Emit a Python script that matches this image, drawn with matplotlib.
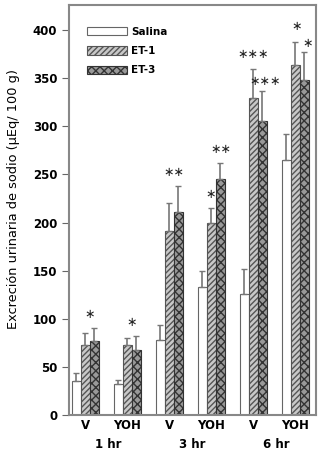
import numpy as np
import matplotlib.pyplot as plt
from matplotlib.patches import Patch

# data
groups = ["V", "YOH", "V", "YOH", "V", "YOH"]
times = ["1 hr", "3 hr", "6 hr"]
series = ["Salina", "ET-1", "ET-3"]
salina = [35, 32, 78, 133, 126, 265]
salina_err = [9, 4, 15, 17, 26, 27]
et1 = [73, 73, 191, 200, 329, 364]
et1_err = [12, 7, 29, 15, 31, 24]
et3 = [77, 68, 211, 245, 305, 348]
et3_err = [13, 14, 27, 17, 32, 29]
# significance marks: (group, offset in bar widths, value, text)
stars = [(0, 0.5, 104, "∗"), (1, 0.5, 96, "∗"), (2, 0.5, 252, "∗∗"),
         (3, -0.1, 229, "∗"), (3, 1.0, 276, "∗∗"), (4, 0.0, 375, "∗∗∗"),
         (4, 1.3, 346, "∗∗∗"), (5, 0.15, 404, "∗"), (5, 1.3, 386, "∗")]

plt.rcParams['font.family'] = ['DejaVu Sans']
fig = plt.figure(figsize=(3.25, 4.51), dpi=100)
ax = fig.add_axes([69 / 325, 1 - 415 / 451, 247 / 325, 410 / 451])

x = np.arange(len(groups))
w = 0.215
styles = [dict(facecolor="white", edgecolor="#666666", hatch=None),
          dict(facecolor="#c8c8c8", edgecolor="#555555", hatch="//////"),
          dict(facecolor="#999999", edgecolor="#333333", hatch="xxxx")]
vals = [salina, et1, et3]
errs = [salina_err, et1_err, et3_err]
for i, (v, e, st) in enumerate(zip(vals, errs, styles)):
    pos = x + (i - 1) * w
    ax.bar(pos, v, w, linewidth=0.8, label=series[i], **st)
    ax.errorbar(pos, v, yerr=[np.zeros(len(e)), e], fmt="none",
                ecolor="#777777", elinewidth=1.2, capsize=2, capthick=1)

for g, off, val, txt in stars:
    ax.text(g + off * w, val, txt, ha="center", va="center", fontsize=9,
            color="#222222")

ax.set_xlim(-0.39, 5.49)
ax.set_ylim(0, 426)
ax.set_yticks(range(0, 401, 50))
ax.set_xticks(x)
ax.set_xticklabels(groups, fontsize=8.5, fontweight="bold")
ax.tick_params(axis="x", length=0, pad=3)
ax.tick_params(axis="y", length=5, labelsize=8.5, color="#666666")
for lab in ax.get_yticklabels():
    lab.set_fontweight("bold")
for s in ax.spines.values():
    s.set_color("#888888")
    s.set_linewidth(1.5)
for k, t in enumerate(times):
    ax.text(2 * k + 0.55, -0.072, t, transform=ax.get_xaxis_transform(),
            ha="center", va="center", fontsize=8.5, fontweight="bold")

ax.set_ylabel("Excreción urinaria de sodio (µEq/ 100 g)", fontsize=9.3)
ax.yaxis.set_label_coords(-0.2, 0.527)

handles = [Patch(label=s, **st, linewidth=0.8) for s, st in zip(series, styles)]
leg = ax.legend(handles=handles, loc="upper left", bbox_to_anchor=(0.035, 0.97),
                frameon=False, handlelength=3.8, handleheight=0.9,
                labelspacing=0.9, handletextpad=0.4,
                prop={"size": 7.5, "weight": "bold"})

fig.savefig("out.png", dpi=100)
